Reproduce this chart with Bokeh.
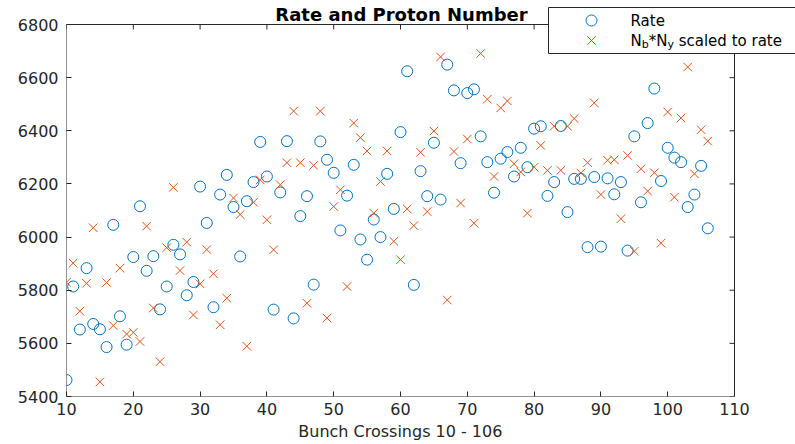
from bokeh.plotting import figure
from bokeh.models import Range1d, FixedTicker, Label, Title
from bokeh.embed import file_html
from bokeh.resources import INLINE

# ---------------- data ----------------
bunch = list(range(10, 107))
rate = [5462, 5814, 5652, 5883, 5673, 5653, 5586, 6046, 5702, 5595,
        5925, 6116, 5873, 5928, 5728, 5814, 5971, 5935, 5781, 5831,
        6190, 6053, 5736, 6160, 6234, 6113, 5927, 6135, 6207, 6358,
        6228, 5727, 6168, 6361, 5694, 6079, 6154, 5821, 6360, 6291,
        6242, 6025, 6156, 6272, 5991, 5915, 6066, 6000, 6238, 6106,
        6395, 6624, 5820, 6248, 6154, 6355, 6141, 6649, 6552, 6278,
        6542, 6556, 6379, 6282, 6167, 6295, 6320, 6228, 6336, 6263,
        6408, 6417, 6155, 6207, 6418, 6094, 6219, 6219, 5962, 6226,
        5964, 6221, 6161, 6207, 5949, 6379, 6131, 6429, 6559, 6211,
        6336, 6299, 6282, 6113, 6160, 6268, 6033]
nbny = [5830, 5902, 5721, 5826, 6035, 5455, 5829, 5667, 5883, 5635,
        5641, 5607, 6041, 5733, 5531, 5960, 6187, 5874, 5981, 5707,
        5824, 5953, 5862, 5670, 5770, 6147, 6085, 5589, 6131, 6215,
        6065, 5952, 6197, 6280, 6474, 6280, 5751, 6270, 6474, 5695,
        6115, 6178, 5814, 6429, 6374, 6324, 6090, 6209, 6324, 5984,
        5915, 6106, 6043, 6319, 6096, 6399, 6678, 5763, 6322, 6128,
        6369, 6052, 6691, 6519, 6228, 6486, 6512, 6276, 6245, 6090,
        6263, 6345, 6251, 6417, 6251, 6417, 6446, 6241, 6280, 6505,
        6160, 6289, 6291, 6069, 6307, 5947, 6257, 6173, 6242, 5977,
        6471, 6150, 6448, 6640, 6238, 6404, 6361]
x_ticks = list(range(10, 111, 10))
y_ticks = list(range(5400, 6801, 200))
title_text = "Rate and Proton Number"
x_label = "Bunch Crossings 10 - 106"
legend_rate = "Rate"

# ---------------- layout (page pixels) ----------------
W, H = 795, 444
BOX_L, BOX_R, BOX_T, BOX_B = 66, 734, 24, 396      # visible axes box
X0, X1 = x_ticks[0], x_ticks[-1]
Y0, Y1 = y_ticks[0], y_ticks[-1]
SX = (BOX_R - BOX_L) / (X1 - X0)                    # px per x unit
SY = (BOX_B - BOX_T) / (Y1 - Y0)                    # px per y unit
FONT = "DejaVu Sans"
AX = "#262626"
C_RATE = "#0072BD"
C_NB = "#D95319"


def dx(px):
    return X0 + (px - BOX_L) / SX


def dy(py):
    return Y0 + (BOX_B - py) / SY


# the Bokeh frame spans up to the top and right canvas edges so that the
# title and legend (which overhang the axes box) are not clipped
p = figure(width=W, height=H, output_backend="svg", toolbar_location=None,
           x_range=Range1d(X0, dx(W)), y_range=Range1d(Y0, dy(0)),
           min_border_left=BOX_L, min_border_right=0,
           min_border_top=0, min_border_bottom=H - BOX_B)
p.xgrid.visible = False
p.ygrid.visible = False
p.outline_line_color = None
p.background_fill_color = "white"
p.border_fill_color = "white"

p.xaxis.ticker = FixedTicker(ticks=x_ticks)
p.yaxis.ticker = FixedTicker(ticks=y_ticks)
for ax in list(p.xaxis) + list(p.yaxis):
    ax.major_tick_in = 5
    ax.major_tick_out = 0
    ax.minor_tick_line_color = None
    ax.axis_line_color = None
    ax.major_tick_line_color = AX
    ax.major_label_text_font = FONT
    ax.major_label_text_font_size = "16px"
    ax.major_label_text_color = AX
p.xaxis.major_label_standoff = 6
p.yaxis.major_label_standoff = 8

# x-axis label, centred under the axes box (not under the wider frame)
label_w = 12.78 * 16
p.add_layout(Title(text=x_label, align="left", offset=(BOX_L + BOX_R) / 2 - label_w / 2 - BOX_L,
                   standoff=4, text_font=FONT, text_font_size="16px",
                   text_font_style="normal", text_color=AX), "below")

# axes box and the inward ticks on its top and right sides
p.quad(left=X0, right=X1, bottom=Y0, top=Y1, fill_color=None, line_color=AX, line_width=1)
p.segment(x0=x_ticks, y0=[Y1] * len(x_ticks), x1=x_ticks, y1=[Y1 - 5 / SY] * len(x_ticks),
          line_color=AX, line_width=1)
p.segment(x0=[X1] * len(y_ticks), y0=y_ticks, x1=[X1 - 5 / SX] * len(y_ticks), y1=y_ticks,
          line_color=AX, line_width=1)

# ---------------- data marks ----------------
p.scatter(bunch, rate, marker="circle", size=11, fill_color=None,
          line_color=C_RATE, line_width=1)
p.scatter(bunch, nbny, marker="x", size=12, line_color=C_NB, line_width=1)

# ---------------- legend (box overhangs the axes box, cut at the right edge) ----------------
LEG_L, LEG_T, LEG_B = 548, 7, 53
ROW1, ROW2 = 20, 40
p.quad(left=dx(LEG_L), right=dx(W + 10), top=dy(LEG_T), bottom=dy(LEG_B),
       fill_color="white", line_color=AX, line_width=1)
p.scatter([dx(591)], [dy(ROW1)], marker="circle", size=11, fill_color=None,
          line_color=C_RATE, line_width=1)
p.scatter([dx(591)], [dy(ROW2)], marker="x", size=12, line_color=C_NB, line_width=1)

pieces = [(legend_rate, 630, ROW1, "15px"),
          ("N", 630, ROW2, "15px"), ("b", 641.2, ROW2 + 4, "11px"), ("*", 648.2, ROW2, "15px"),
          ("N", 655.7, ROW2, "15px"), ("y", 666.9, ROW2 + 4, "11px"),
          ("scaled to rate", 678.2, ROW2, "15px")]
for txt, px, py, fs in pieces:
    p.add_layout(Label(x=dx(px), y=dy(py), text=txt, text_align="left",
                       text_baseline="middle", text_font=FONT, text_font_size=fs,
                       text_color="black"))

# ---------------- title ----------------
p.add_layout(Label(x=dx(401), y=dy(14), text=title_text, text_align="center",
                   text_baseline="middle", text_font=FONT, text_font_size="18px",
                   text_font_style="bold", text_color="black"))

open("out.html", "w").write(file_html(p, INLINE))
